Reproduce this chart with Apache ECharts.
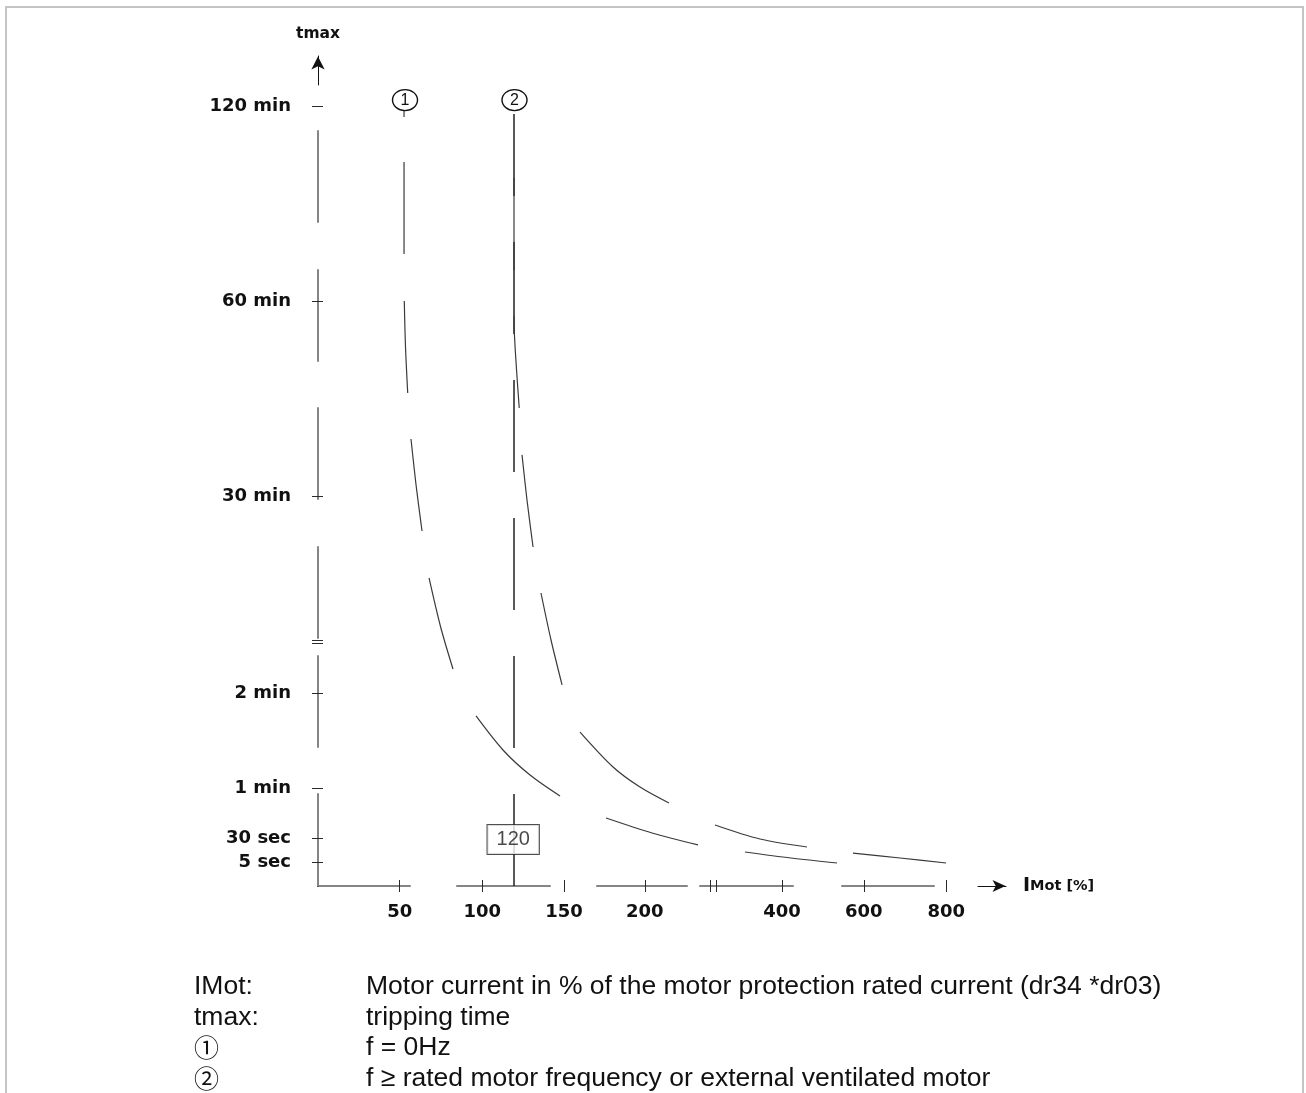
<!DOCTYPE html>
<html>
<head>
<meta charset="utf-8">
<title>Motor protection tripping curve</title>
<script src="https://cdn.jsdelivr.net/npm/echarts@6/dist/echarts.min.js"></script>
<style>
  html, body { margin: 0; padding: 0; background: #fff; }
  #chart { width: 1306px; height: 1093px; }
</style>
</head>
<body>
<div id="chart"></div>
<script>
// both axes are schematic (broken scales), so everything is in grid units:
// x = 1 unit per 50 % up to 200 %, y = 1 unit per minute up to 2 min
const xTickLabels = ['50', '100', '150', '200', '400', '600', '800']
const xTickPos = [1, 2.01, 3.01, 4, 5.68, 6.68, 7.69]
const xBreakPos = [4.8, 4.87]

const yTickLabels = ['5 sec', '30 sec', '1 min', '2 min', '30 min', '60 min', '120 min']
const yTickPos = [0.24, 0.49, 1, 1.98, 4, 6, 8]
const yBreakPos = [2.49, 2.52]

// curve (1) f = 0Hz, one inner list per visible dash
const curve1 = [
  [[1.053, 7.959], [1.053, 7.887]],
  [[1.053, 7.426], [1.053, 6.482]],
  [[1.056, 6.0], [1.071, 5.528], [1.098, 5.056]],
  [[1.138, 4.585], [1.2, 4.113], [1.273, 3.641]],
  [[1.359, 3.159], [1.5, 2.659], [1.652, 2.226]],
  [[1.934, 1.744], [2.264, 1.395], [2.595, 1.138], [2.962, 0.923]],
  [[3.525, 0.697], [4.088, 0.544], [4.651, 0.421]],
  [[5.226, 0.349], [5.789, 0.287], [6.353, 0.236]]
]

// curve (2) rated frequency / external ventilation
const curve2 = [
  [[2.399, 7.262], [2.399, 6.318]],
  [[2.399, 5.846], [2.403, 5.672], [2.43, 5.292], [2.463, 4.903]],
  [[2.497, 4.421], [2.558, 3.959], [2.632, 3.477]],
  [[2.729, 3.005], [2.852, 2.523], [2.987, 2.062]],
  [[3.207, 1.579], [3.611, 1.221], [3.941, 1.015], [4.296, 0.851]],
  [[4.859, 0.626], [5.41, 0.482], [5.985, 0.4]],
  [[6.548, 0.338], [7.124, 0.287], [7.687, 0.236]]
]

// 120 % marker line and its value box
const line120 = [[2.399, 0], [2.399, 7.918]]
const line120Box = [[2.389, 0.477, '120']]

// circled curve numbers above the curves
const curveMarks = [[1.065, 8.06, '1'], [2.405, 8.06, '2']]

const notes = [
  ['IMot:', 'Motor current in % of the motor protection rated current (dr34 *dr03)'],
  ['tmax:', 'tripping time'],
  ['\u2460', 'f = 0Hz'],
  ['\u2461', 'f \u2265 rated motor frequency or external ventilated motor']
]

const X_MAX = 8.494
const Y_MAX = 8.574

function dashesToData(dashes) {
  const out = []
  dashes.forEach((d, i) => {
    if (i > 0) out.push(['-', '-'])
    d.forEach(p => out.push(p))
  })
  return out
}

const chart = echarts.init(document.getElementById('chart'))

const labelFont = {
  fontFamily: 'DejaVu Sans',
  fontWeight: 'bold',
  fontSize: 18,
  color: '#111'
}
const tickStyle = { color: '#2a2a2a', width: 1 }
const axisGray = '#858585'

const noteGraphics = []
notes.forEach((n, i) => {
  const y = 986.5 + i * 30.7
  noteGraphics.push({
    type: 'text', x: 194, y: y,
    style: {
      text: n[0], fill: '#111', verticalAlign: 'middle',
      fontSize: i < 2 ? 26.5 : 25,
      fontFamily: i < 2 ? 'Liberation Sans' : '"Noto Sans CJK JP"'
    }
  })
  noteGraphics.push({
    type: 'text', x: 366, y: y,
    style: { text: n[1], fill: '#111', verticalAlign: 'middle', fontSize: 26.5, fontFamily: 'Liberation Sans' }
  })
})

chart.setOption({
  animation: false,
  backgroundColor: '#fff',
  grid: {
    left: 318,
    right: 294,
    top: 50,
    bottom: 207,
    containLabel: false,
    outerBoundsMode: 'none'
  },
  xAxis: [
    {
      type: 'value',
      min: 0,
      max: X_MAX,
      position: 'bottom',
      name: '{a|I}{b|Mot [%]}',
      nameLocation: 'end',
      nameGap: 11,
      nameTextStyle: {
        rich: {
          a: { fontFamily: 'DejaVu Sans', fontWeight: 'bold', fontSize: 19, color: '#111' },
          b: { fontFamily: 'DejaVu Sans', fontWeight: 'bold', fontSize: 14.5, color: '#111' }
        }
      },
      axisLine: {
        onZero: false,
        lineStyle: { color: axisGray, width: 2, type: [92, 47, 93, 47, 90, 13, 93, 49, 92, 1000] }
      },
      axisTick: { customValues: xTickPos.concat(xBreakPos), length: 6, lineStyle: tickStyle },
      axisLabel: {
        customValues: xTickPos,
        formatter: v => xTickLabels[xTickPos.indexOf(v)],
        margin: 17,
        ...labelFont
      },
      splitLine: { show: false }
    },
    {
      type: 'value',
      min: 0,
      max: X_MAX,
      position: 'bottom',
      axisLine: {
        onZero: false,
        symbol: ['none', 'arrow'],
        symbolSize: [9, 13],
        symbolOffset: [0, -6.5],
        lineStyle: { color: '#111', width: 1, type: [0, 660, 28, 1000] }
      },
      axisTick: { inside: true, customValues: xTickPos.concat(xBreakPos), length: 6, lineStyle: tickStyle },
      axisLabel: { show: false },
      splitLine: { show: false }
    }
  ],
  yAxis: [
    {
      type: 'value',
      min: 0,
      max: Y_MAX,
      position: 'left',
      axisLine: {
        onZero: false,
        lineStyle: { color: axisGray, width: 2, type: [92, 47, 91, 18, 91, 48, 91, 47, 91, 48, 91, 1000] }
      },
      axisTick: { customValues: yTickPos.concat(yBreakPos), length: 6, lineStyle: tickStyle },
      axisLabel: {
        customValues: yTickPos,
        formatter: v => yTickLabels[yTickPos.indexOf(v)],
        margin: 27,
        ...labelFont
      },
      splitLine: { show: false }
    },
    {
      type: 'value',
      min: 0,
      max: Y_MAX,
      position: 'left',
      name: 'tmax',
      nameLocation: 'end',
      nameGap: 8,
      nameTextStyle: { fontFamily: 'DejaVu Sans', fontWeight: 'bold', fontSize: 15.5, color: '#111' },
      axisLine: {
        onZero: false,
        symbol: ['none', 'arrow'],
        symbolSize: [10, 13],
        symbolOffset: [0, -6.5],
        lineStyle: { color: '#111', width: 1, type: [0, 801, 29, 1000] }
      },
      axisTick: { inside: true, customValues: yTickPos.concat(yBreakPos), length: 5, lineStyle: tickStyle },
      axisLabel: { show: false },
      splitLine: { show: false }
    }
  ],
  graphic: [
    {
      type: 'polyline',
      shape: { points: [[6, 1093], [6, 7], [1303, 7], [1303, 1093]] },
      style: { stroke: '#c4c4c4', lineWidth: 2, fill: null }
    }
  ].concat(noteGraphics),
  series: [
    {
      name: '120 %',
      type: 'line',
      data: line120,
      symbol: 'none',
      silent: true,
      z: 2,
      lineStyle: { color: '#111', width: 1.4, type: [92, 46] }
    },
    {
      name: 'f = 0Hz',
      type: 'line',
      data: dashesToData(curve1),
      symbol: 'none',
      smooth: 0.3,
      connectNulls: false,
      silent: true,
      z: 3,
      lineStyle: { color: '#3a3a3a', width: 1.2 }
    },
    {
      name: 'f >= rated',
      type: 'line',
      data: dashesToData(curve2),
      symbol: 'none',
      smooth: 0.3,
      connectNulls: false,
      silent: true,
      z: 3,
      lineStyle: { color: '#3a3a3a', width: 1.2 }
    },
    {
      type: 'scatter',
      data: curveMarks,
      symbol: 'circle',
      symbolSize: [25, 21],
      silent: true,
      z: 5,
      itemStyle: { color: '#fff', borderColor: '#111', borderWidth: 1.3, opacity: 1 },
      label: {
        show: true,
        position: 'inside',
        formatter: p => p.data[2],
        fontFamily: 'Liberation Sans',
        fontSize: 16,
        color: '#111'
      }
    },
    {
      type: 'scatter',
      data: line120Box,
      symbolSize: 0,
      silent: true,
      z: 6,
      label: {
        show: true,
        position: 'inside',
        formatter: p => p.data[2],
        backgroundColor: '#fff',
        borderColor: '#222',
        borderWidth: 1,
        padding: [5, 9, 4, 9],
        fontFamily: 'Liberation Sans',
        fontSize: 20,
        color: '#1a1a1a'
      }
    }
  ]
})

window.addEventListener('resize', () => chart.resize())
</script>
</body>
</html>
